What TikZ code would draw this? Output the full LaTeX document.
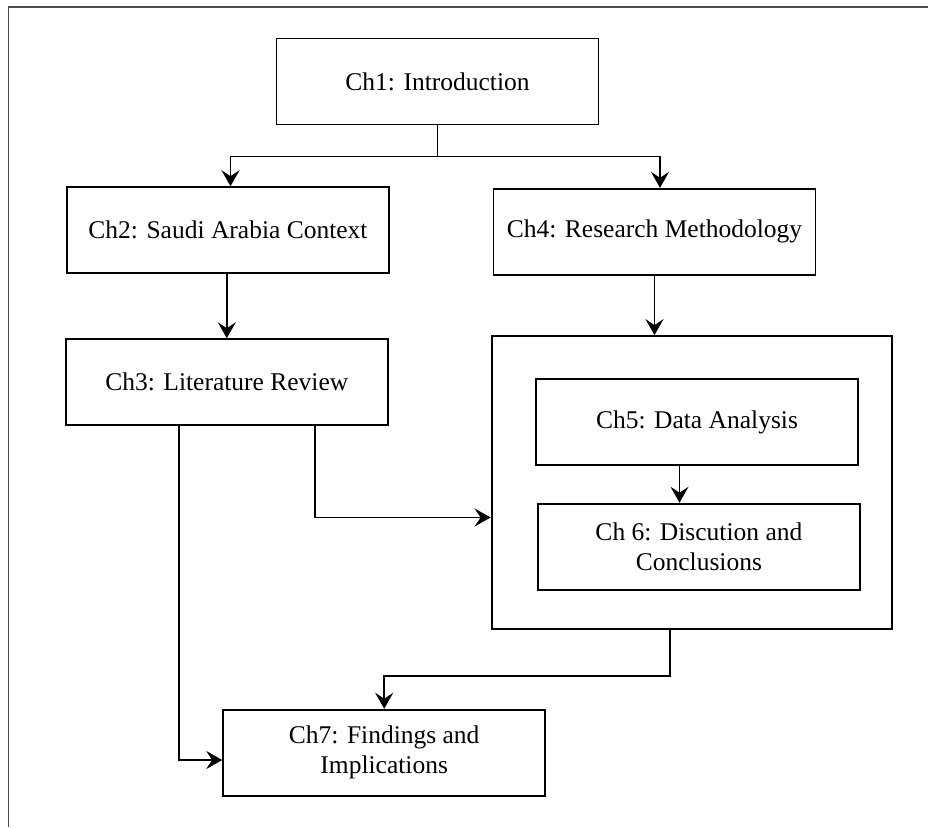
\documentclass[tikz,border=0pt]{standalone}
\usepackage{fontspec}
\setmainfont{Liberation Serif}
\usetikzlibrary{arrows.meta}
\begin{document}
\begin{tikzpicture}[x=1pt,y=-1pt,
  chapter/.style={draw=black, line width=1.9pt, minimum width=322pt,
    minimum height=86pt, inner sep=0pt, align=center,
    font=\fontsize{25.5}{30}\selectfont},
  group/.style={draw=black, line width=1.9pt, minimum width=400.5pt,
    minimum height=293.3pt, inner sep=0pt},
  wire/.style={line width=1.9pt},
  link/.style={wire, -{Stealth[length=16pt,width=18pt,inset=6pt]}},
  frame/.style={draw=black!70, line width=1.8pt}]
\useasboundingbox (0,0) rectangle (928,827);

% outer frame (open to the right and bottom)
\draw[frame] (928,7) -- (8.5,7) -- (8.5,827);

% chapters
\node[chapter] (ch1) at (437.5,81.5) {Ch1: Introduction};
\node[chapter] (ch2) at (228,230.2) {Ch2: Saudi Arabia Context};
\node[chapter] (ch4) at (654.5,231.8) {Ch4: Research Methodology};
\node[chapter] (ch3) at (226.8,382.2) {Ch3: Literature Review};
\node[group]   (grp) at (691.8,482.7) {};
\node[chapter] (ch5) at (697,422.2) {Ch5: Data Analysis};
\node[chapter] (ch6) at (698.9,546.7) {Ch 6: Discution and\\Conclusions};
\node[chapter] (ch7) at (384.2,752.7) {Ch7: Findings and\\Implications};

% connectors
\coordinate (bus) at (437.5,156.5);
\draw[wire] (ch1.south) -- (bus);
\draw[link] (bus) -| ([xshift=2.5pt]ch2.north);
\draw[link] (bus) -| ([xshift=5.5pt]ch4.north);
\draw[link] (ch3.north |- ch2.south) -- (ch3.north);
\draw[link] (ch4.south) -- (ch4.south |- grp.north);
\draw[link] ([xshift=-17.5pt]ch5.south) -- ([xshift=-17.5pt]ch5.south |- ch6.north);
\draw[link] ([xshift=88.2pt]ch3.south) |- ([yshift=-34.8pt]grp.west);
\draw[link] ([xshift=-47.5pt]ch3.south) |- ([yshift=-7.3pt]ch7.west);
\draw[link] ([xshift=-21.8pt]grp.south) -- ++(0,46) -| (ch7.north);
\end{tikzpicture}
\end{document}
